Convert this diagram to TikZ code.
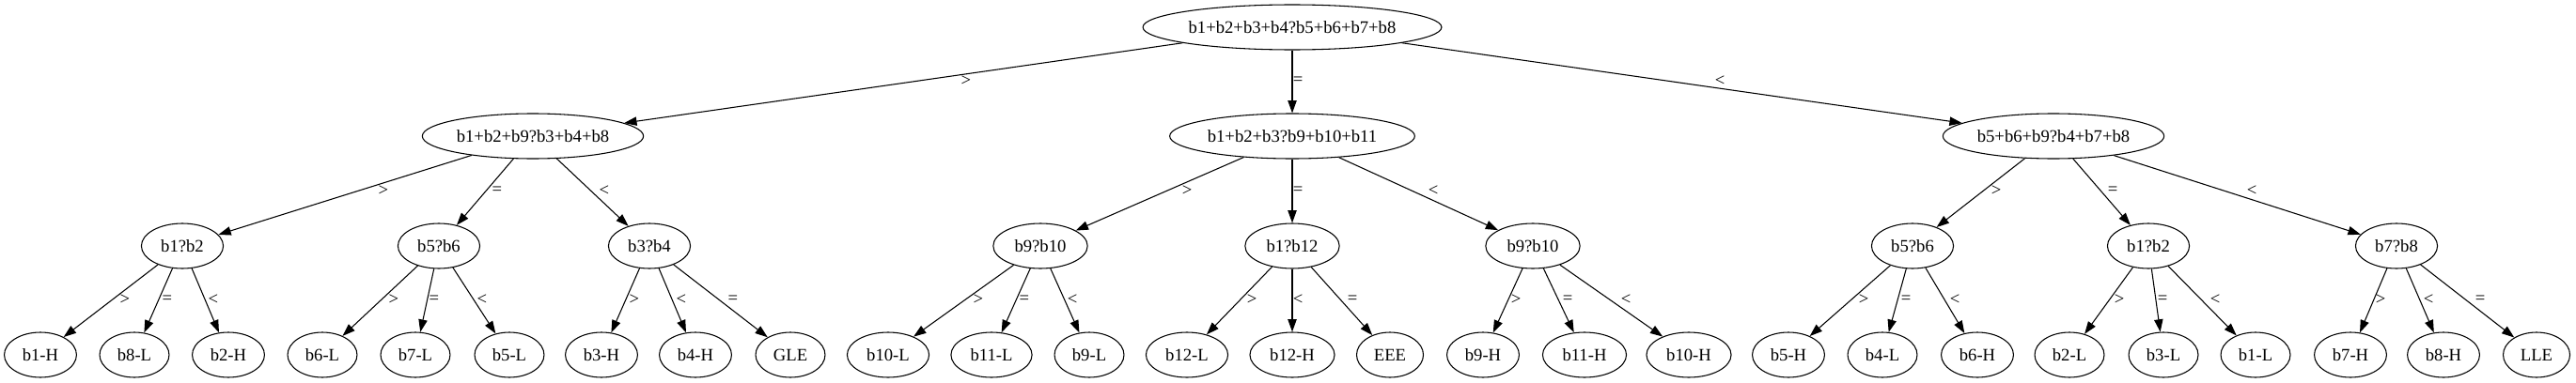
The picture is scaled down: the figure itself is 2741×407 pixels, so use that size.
\documentclass[tikz,border=0pt]{standalone}
\usepackage{fontspec}
\setmainfont{Liberation Serif}
\usepackage{tikz}
\usetikzlibrary{shapes.geometric,arrows.meta}

\begin{document}
\begin{tikzpicture}[x=0.75pt,y=-0.75pt,>={Triangle[length=10pt,width=7pt]},
    every node/.style={font=\fontsize{14pt}{16pt}\selectfont},
    bigq/.style={draw,ellipse,line width=0.8pt,minimum height=36pt,inner xsep=1.5pt,inner ysep=2pt},
    smallq/.style={draw,ellipse,line width=0.8pt,minimum height=36pt,inner xsep=6pt,inner ysep=2pt},
    edge/.style={->,line width=0.8pt},
    lbl/.style={inner sep=0pt}]
    \useasboundingbox (0,0) rectangle (2741,407);

    % weighings
    \node[bigq] (top) at (1375,29) {b1+b2+b3+b4?b5+b6+b7+b8};
    \node[bigq] (l) at (567,145) {b1+b2+b9?b3+b4+b8};
    \node[bigq] (m) at (1375,145) {b1+b2+b3?b9+b10+b11};
    \node[bigq] (r) at (2185,145) {b5+b6+b9?b4+b7+b8};

    \node[smallq] (l1) at (194,262) {b1?b2};
    \node[smallq] (l2) at (467,262) {b5?b6};
    \node[smallq] (l3) at (691,262) {b3?b4};
    \node[smallq] (m1) at (1107,262) {b9?b10};
    \node[smallq] (m2) at (1375,262) {b1?b12};
    \node[smallq] (m3) at (1631,262) {b9?b10};
    \node[smallq] (r1) at (2035,262) {b5?b6};
    \node[smallq] (r2) at (2286,262) {b1?b2};
    \node[smallq] (r3) at (2550,262) {b7?b8};

    % outcomes
    \node[smallq] (l1a) at (43,378) {b1-H};
    \node[smallq] (l1b) at (143,378) {b8-L};
    \node[smallq] (l1c) at (243,378) {b2-H};
    \node[smallq] (l2a) at (343,378) {b6-L};
    \node[smallq] (l2b) at (442,378) {b7-L};
    \node[smallq] (l2c) at (542,378) {b5-L};
    \node[smallq] (l3a) at (640,378) {b3-H};
    \node[smallq] (l3b) at (740,378) {b4-H};
    \node[smallq] (l3c) at (841,378) {GLE};
    \node[smallq] (m1a) at (945,378) {b10-L};
    \node[smallq] (m1b) at (1055,378) {b11-L};
    \node[smallq] (m1c) at (1159,378) {b9-L};
    \node[smallq] (m2a) at (1263,378) {b12-L};
    \node[smallq] (m2b) at (1375,378) {b12-H};
    \node[smallq] (m2c) at (1479,378) {EEE};
    \node[smallq] (m3a) at (1578,378) {b9-H};
    \node[smallq] (m3b) at (1686,378) {b11-H};
    \node[smallq] (m3c) at (1797,378) {b10-H};
    \node[smallq] (r1a) at (1903,378) {b5-H};
    \node[smallq] (r1b) at (2003,378) {b4-L};
    \node[smallq] (r1c) at (2104,378) {b6-H};
    \node[smallq] (r2a) at (2202,378) {b2-L};
    \node[smallq] (r2b) at (2302,378) {b3-L};
    \node[smallq] (r2c) at (2400,378) {b1-L};
    \node[smallq] (r3a) at (2501,378) {b7-H};
    \node[smallq] (r3b) at (2600,378) {b8-H};
    \node[smallq] (r3c) at (2699,378) {LLE};

    \draw[edge] (top) -- (l) node[lbl] at (1028,86) {>};
    \draw[edge] (top) -- (m) node[lbl] at (1381,86) {=};
    \draw[edge] (top) -- (r) node[lbl] at (1830,86) {<};

    \draw[edge] (l) -- (l1) node[lbl] at (408,203) {>};
    \draw[edge] (l) -- (l2) node[lbl] at (529,203) {=};
    \draw[edge] (l) -- (l3) node[lbl] at (643,203) {<};
    \draw[edge] (m) -- (m1) node[lbl] at (1263,203) {>};
    \draw[edge] (m) -- (m2) node[lbl] at (1381,203) {=};
    \draw[edge] (m) -- (m3) node[lbl] at (1525,203) {<};
    \draw[edge] (r) -- (r1) node[lbl] at (2124,203) {>};
    \draw[edge] (r) -- (r2) node[lbl] at (2248,203) {=};
    \draw[edge] (r) -- (r3) node[lbl] at (2396,203) {<};

    \draw[edge] (l1) -- (l1a) node[lbl] at (133,319) {>};
    \draw[edge] (l1) -- (l1b) node[lbl] at (178,319) {=};
    \draw[edge] (l1) -- (l1c) node[lbl] at (227,319) {<};
    \draw[edge] (l2) -- (l2a) node[lbl] at (419,319) {>};
    \draw[edge] (l2) -- (l2b) node[lbl] at (462,319) {=};
    \draw[edge] (l2) -- (l2c) node[lbl] at (513,319) {<};
    \draw[edge] (l3) -- (l3a) node[lbl] at (675,319) {>};
    \draw[edge] (l3) -- (l3b) node[lbl] at (725,319) {<};
    \draw[edge] (l3) -- (l3c) node[lbl] at (780,319) {=};
    \draw[edge] (m1) -- (m1a) node[lbl] at (1041,319) {>};
    \draw[edge] (m1) -- (m1b) node[lbl] at (1090,319) {=};
    \draw[edge] (m1) -- (m1c) node[lbl] at (1141,319) {<};
    \draw[edge] (m2) -- (m2a) node[lbl] at (1332,319) {>};
    \draw[edge] (m2) -- (m2b) node[lbl] at (1381,319) {<};
    \draw[edge] (m2) -- (m2c) node[lbl] at (1439,319) {=};
    \draw[edge] (m3) -- (m3a) node[lbl] at (1613,319) {>};
    \draw[edge] (m3) -- (m3b) node[lbl] at (1668,319) {=};
    \draw[edge] (m3) -- (m3c) node[lbl] at (1730,319) {<};
    \draw[edge] (r1) -- (r1a) node[lbl] at (1983,319) {>};
    \draw[edge] (r1) -- (r1b) node[lbl] at (2028,319) {=};
    \draw[edge] (r1) -- (r1c) node[lbl] at (2080,319) {<};
    \draw[edge] (r2) -- (r2a) node[lbl] at (2255,319) {>};
    \draw[edge] (r2) -- (r2b) node[lbl] at (2301,319) {=};
    \draw[edge] (r2) -- (r2c) node[lbl] at (2357,319) {<};
    \draw[edge] (r3) -- (r3a) node[lbl] at (2533,319) {>};
    \draw[edge] (r3) -- (r3b) node[lbl] at (2584,319) {<};
    \draw[edge] (r3) -- (r3c) node[lbl] at (2639,319) {=};
\end{tikzpicture}
\end{document}
